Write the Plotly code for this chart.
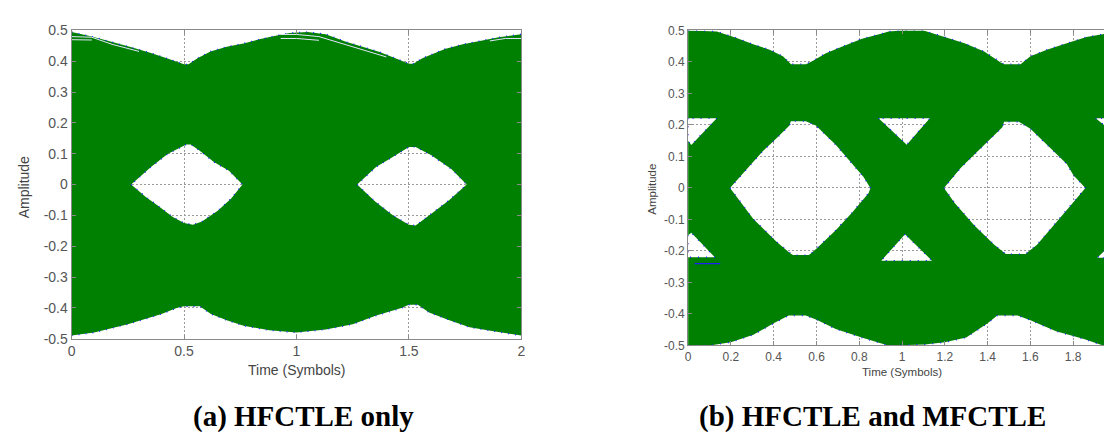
import plotly.graph_objects as go

# ---------------- data ----------------
# (a) HFCTLE only : eye-diagram envelopes and eye openings
a_top_x = [0, 0.09, 0.177, 0.27, 0.353, 0.43, 0.5, 0.52, 0.56, 0.618, 0.69, 0.765, 0.84, 0.913, 0.97,
           1.05, 1.13, 1.22, 1.29, 1.37, 1.44, 1.5, 1.52, 1.56, 1.66, 1.74, 1.81, 1.9, 2.0]
a_top_y = [0.495, 0.48, 0.463, 0.445, 0.427, 0.408, 0.39, 0.39, 0.41, 0.432, 0.447, 0.458, 0.472, 0.484, 0.492,
           0.495, 0.488, 0.463, 0.448, 0.43, 0.41, 0.392, 0.392, 0.41, 0.44, 0.455, 0.465, 0.478, 0.488]
a_bot_x = [0, 0.1, 0.25, 0.4, 0.47, 0.5, 0.57, 0.62, 0.69, 0.765, 0.88, 1.0, 1.13, 1.25, 1.355, 1.47,
           1.5, 1.54, 1.59, 1.68, 1.77, 1.87, 2.0]
a_bot_y = [-0.49, -0.48, -0.453, -0.42, -0.40, -0.395, -0.395, -0.42, -0.44, -0.458, -0.473, -0.48, -0.47,
           -0.453, -0.425, -0.40, -0.39, -0.39, -0.415, -0.44, -0.463, -0.475, -0.49]
a_eye1_x = [0.265, 0.33, 0.383, 0.45, 0.5, 0.54, 0.58, 0.65, 0.71, 0.76, 0.70, 0.633, 0.57, 0.53, 0.51, 0.427, 0.353]
a_eye1_y = [0.0, -0.04, -0.068, -0.105, -0.125, -0.13, -0.12, -0.085, -0.045, 0.0, 0.045, 0.073, 0.11, 0.13, 0.13, 0.099, 0.057]
a_eye2_x = [1.27, 1.35, 1.43, 1.5, 1.53, 1.6, 1.68, 1.757, 1.69, 1.6, 1.53, 1.5, 1.43, 1.354]
a_eye2_y = [0.0, -0.055, -0.1, -0.13, -0.133, -0.095, -0.05, 0.0, 0.05, 0.095, 0.122, 0.122, 0.09, 0.057]
# a few light traces visible inside the green band of (a)
a_trace1_x = [0, 0.09, 0.18, 0.3]
a_trace1_y = [0.48, 0.478, 0.455, 0.432]
a_trace2_x = [0, 0.09]
a_trace2_y = [0.47, 0.469]
a_trace3_x = [0.93, 1.0, 1.1, 1.2, 1.3, 1.4]
a_trace3_y = [0.487, 0.487, 0.48, 0.458, 0.437, 0.414]
a_trace4_x = [0.93, 1.0, 1.1]
a_trace4_y = [0.474, 0.474, 0.468]
a_trace5_x = [1.86, 1.93, 2.0]
a_trace5_y = [0.466, 0.474, 0.474]

# (b) HFCTLE and MFCTLE
b_top_x = [0, 0.134, 0.227, 0.304, 0.381, 0.443, 0.481, 0.551, 0.582, 0.644, 0.721, 0.813, 0.906, 0.937,
           1.0, 1.1, 1.199, 1.292, 1.384, 1.461, 1.477, 1.554, 1.6, 1.677, 1.77, 1.862, 1.955, 2.0]
b_top_y = [0.5, 0.497, 0.476, 0.456, 0.439, 0.418, 0.393, 0.393, 0.403, 0.428, 0.449, 0.474, 0.49, 0.497,
           0.5, 0.5, 0.479, 0.459, 0.433, 0.398, 0.393, 0.393, 0.418, 0.439, 0.459, 0.479, 0.49, 0.497]
b_bot_x = [0, 0.1, 0.2, 0.305, 0.4, 0.47, 0.55, 0.606, 0.69, 0.815, 0.935, 1.106, 1.2, 1.3, 1.4, 1.445,
           1.54, 1.6, 1.72, 1.85, 1.94, 2.0]
b_bot_y = [-0.5, -0.5, -0.49, -0.466, -0.43, -0.405, -0.405, -0.42, -0.448, -0.476, -0.5, -0.497, -0.49,
           -0.475, -0.43, -0.405, -0.405, -0.42, -0.455, -0.48, -0.5, -0.5]
b_eye1_x = [0.196, 0.304, 0.412, 0.474, 0.49, 0.565, 0.597, 0.69, 0.767, 0.844, 0.852, 0.82, 0.782, 0.69,
            0.597, 0.55, 0.48, 0.474, 0.412, 0.35, 0.281]
b_eye1_y = [0.0, -0.098, -0.17, -0.206, -0.213, -0.213, -0.195, -0.134, -0.078, -0.016, 0.0, 0.035, 0.065,
            0.137, 0.198, 0.212, 0.212, 0.198, 0.157, 0.117, 0.065]
b_eye2_x = [1.196, 1.245, 1.338, 1.431, 1.485, 1.577, 1.631, 1.708, 1.786, 1.857, 1.801, 1.77, 1.693, 1.6,
            1.546, 1.477, 1.469, 1.415, 1.338, 1.276]
b_eye2_y = [0.0, -0.047, -0.119, -0.18, -0.21, -0.21, -0.18, -0.119, -0.057, 0.0, 0.04, 0.076, 0.127, 0.188,
            0.21, 0.21, 0.193, 0.157, 0.106, 0.065]
b_tri_tl_x = [0, 0, 0.015, 0.134]
b_tri_tl_y = [0.221, 0.15, 0.136, 0.221]
b_tri_tm_x = [0.89, 1.022, 1.13]
b_tri_tm_y = [0.221, 0.137, 0.221]
b_tri_tr_x = [1.905, 2.0, 2.0]
b_tri_tr_y = [0.221, 0.17, 0.221]
b_tri_bl_x = [0, 0, 0.125, 0.015]
b_tri_bl_y = [-0.15, -0.22, -0.22, -0.142]
b_tri_bm_x = [1.014, 0.903, 1.14]
b_tri_bm_y = [-0.147, -0.231, -0.231]
b_tri_br_x = [2.0, 1.912, 2.0]
b_tri_br_y = [-0.165, -0.222, -0.222]
b_blue_x = [0.03, 0.15]
b_blue_y = [-0.24, -0.24]

# ticks
a_xticks = [0, 0.5, 1, 1.5, 2]
a_xtick_labels = ["0", "0.5", "1", "1.5", "2"]
b_xticks = [0, 0.2, 0.4, 0.6, 0.8, 1, 1.2, 1.4, 1.6, 1.8, 2]
b_xtick_labels = ["0", "0.2", "0.4", "0.6", "0.8", "1", "1.2", "1.4", "1.6", "1.8", "2"]
yticks = [-0.5, -0.4, -0.3, -0.2, -0.1, 0, 0.1, 0.2, 0.3, 0.4, 0.5]
ytick_labels = ["-0.5", "-0.4", "-0.3", "-0.2", "-0.1", "0", "0.1", "0.2", "0.3", "0.4", "0.5"]

captions = ["(a) HFCTLE only", "(b) HFCTLE and MFCTLE"]
xlabel = "Time (Symbols)"
ylabel = "Amplitude"

GREEN = "#008000"
BLUE = "#1e1eff"
W, H = 1112, 435


def band_with_holes(top_x, top_y, bot_x, bot_y, holes):
    xs = list(top_x) + list(bot_x[::-1])
    ys = list(top_y) + list(bot_y[::-1])
    for hx, hy in holes:
        xs += [None] + list(hx)
        ys += [None] + list(hy)
    return xs, ys


def outline(paths):
    xs, ys = [], []
    for px, py, close in paths:
        if xs:
            xs.append(None)
            ys.append(None)
        xs += list(px) + ([px[0]] if close else [])
        ys += list(py) + ([py[0]] if close else [])
    return xs, ys


fig = go.Figure()

# ---- (a)
ax, ay = band_with_holes(a_top_x, a_top_y, a_bot_x, a_bot_y,
                         [(a_eye1_x, a_eye1_y), (a_eye2_x, a_eye2_y)])
fig.add_trace(go.Scatter(x=ax, y=ay, mode="none", fill="toself", fillcolor=GREEN,
                         hoverinfo="skip", xaxis="x", yaxis="y"))
ox, oy = outline([(a_top_x, a_top_y, False), (a_bot_x, a_bot_y, False),
                  (a_eye1_x, a_eye1_y, True), (a_eye2_x, a_eye2_y, True)])
fig.add_trace(go.Scatter(x=ox, y=oy, mode="lines", line=dict(color=BLUE, width=1.3, dash="1px,6px"),
                         hoverinfo="skip", xaxis="x", yaxis="y"))
for tx, ty in [(a_trace1_x, a_trace1_y), (a_trace2_x, a_trace2_y), (a_trace3_x, a_trace3_y),
               (a_trace4_x, a_trace4_y), (a_trace5_x, a_trace5_y)]:
    fig.add_trace(go.Scatter(x=tx, y=ty, mode="lines", line=dict(color="#e4e4ff", width=1),
                             hoverinfo="skip", xaxis="x", yaxis="y"))

# ---- (b)
b_holes = [(b_eye1_x, b_eye1_y), (b_eye2_x, b_eye2_y), (b_tri_tl_x, b_tri_tl_y), (b_tri_tm_x, b_tri_tm_y),
           (b_tri_tr_x, b_tri_tr_y), (b_tri_bl_x, b_tri_bl_y), (b_tri_bm_x, b_tri_bm_y), (b_tri_br_x, b_tri_br_y)]
bx, by = band_with_holes(b_top_x, b_top_y, b_bot_x, b_bot_y, b_holes)
fig.add_trace(go.Scatter(x=bx, y=by, mode="none", fill="toself", fillcolor=GREEN,
                         hoverinfo="skip", xaxis="x2", yaxis="y2"))
ox, oy = outline([(b_top_x, b_top_y, False), (b_bot_x, b_bot_y, False)] + [(hx, hy, True) for hx, hy in b_holes])
fig.add_trace(go.Scatter(x=ox, y=oy, mode="lines", line=dict(color=BLUE, width=1.3, dash="1px,7px"),
                         hoverinfo="skip", xaxis="x2", yaxis="y2"))
fig.add_trace(go.Scatter(x=b_blue_x, y=b_blue_y, mode="lines", line=dict(color=BLUE, width=1.2),
                         hoverinfo="skip", xaxis="x2", yaxis="y2"))

# ---- axes
FONT = "Liberation Sans, Arial, sans-serif"


def axis_style(size):
    return dict(showline=True, linecolor="#8a8a8a", linewidth=1, mirror="ticks", ticks="inside",
                ticklen=4, tickcolor="#8a8a8a", showgrid=True, gridcolor="#9a9a9a", gridwidth=1,
                griddash="2px,2px", zeroline=False, tickfont=dict(family=FONT, size=size, color="#555555"),
                fixedrange=True)


fig.update_layout(
    width=W, height=H, margin=dict(l=0, r=0, t=0, b=0),
    paper_bgcolor="white", plot_bgcolor="white", showlegend=False,
    xaxis=dict(domain=[60 / W, 513 / W], range=[0, 2], tickvals=a_xticks, ticktext=a_xtick_labels,
               anchor="y", **axis_style(14)),
    yaxis=dict(domain=[1 - 335 / H, 1 - 15 / H], range=[-0.5, 0.5], tickvals=yticks, ticktext=ytick_labels,
               anchor="x", **axis_style(14)),
    xaxis2=dict(domain=[681 / W, 1.0], range=[0, 2], tickvals=b_xticks, ticktext=b_xtick_labels,
                anchor="y2", **axis_style(12)),
    yaxis2=dict(domain=[1 - 342 / H, 1 - 15 / H], range=[-0.5, 0.5], tickvals=yticks, ticktext=ytick_labels,
                anchor="x2", **axis_style(12)),
)

ann = [
    dict(text=ylabel, x=13 / W, y=1 - 178 / H, textangle=-90, font=dict(family=FONT, size=14, color="#444444")),
    dict(text=xlabel, x=287 / W, y=1 - 368 / H, font=dict(family=FONT, size=14, color="#444444")),
    dict(text=ylabel, x=645 / W, y=1 - 180 / H, textangle=-90, font=dict(family=FONT, size=11.5, color="#444444")),
    dict(text=xlabel, x=896 / W, y=1 - 370 / H, font=dict(family=FONT, size=11.5, color="#444444")),
    dict(text="<b>" + captions[0] + "</b>", x=294 / W, y=1 - 416 / H,
         font=dict(family="Liberation Serif, Times New Roman, serif", size=29, color="black")),
    dict(text="<b>" + captions[1] + "</b>", x=867 / W, y=1 - 416 / H,
         font=dict(family="Liberation Serif, Times New Roman, serif", size=29, color="black")),
]
for a in ann:
    a.update(xref="paper", yref="paper", showarrow=False, xanchor="center", yanchor="middle")
fig.update_layout(annotations=ann)

fig.write_html("out.html")
